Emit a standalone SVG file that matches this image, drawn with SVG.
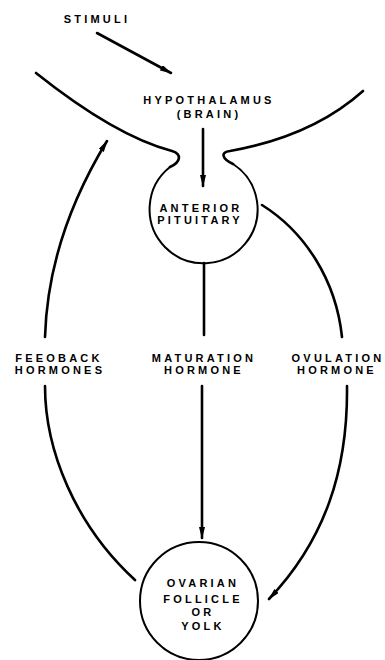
<svg xmlns="http://www.w3.org/2000/svg" width="385" height="660" viewBox="0 0 385 660">
<defs>
<marker id="ah" viewBox="0 0 12 6" refX="11" refY="3" markerWidth="12" markerHeight="6" markerUnits="userSpaceOnUse" orient="auto">
<path d="M0,0 L12,3 L0,6 Z" fill="#000"/>
</marker>
<style>
text{font-family:"Liberation Sans",Arial,sans-serif;font-size:11px;font-weight:bold;letter-spacing:3.2px;text-anchor:middle;fill:#000}
.ln{fill:none;stroke:#000;stroke-width:2.6;stroke-linecap:round}
.cl{fill:none;stroke:#000;stroke-width:2}
</style>
</defs>
<rect width="385" height="660" fill="#fff"/>
<g id="stimuli">
<text x="97" y="23">STIMULI</text>
</g>
<g id="hypothalamus">
<path class="ln" d="M36,73 C85,112 130,140 172,151 C182,154 181,162 170,167"/>
<path class="ln" d="M233,164 C222,159 220,152 230,151 C275,143 325,125 363,91"/>
<text x="209" y="104">HYPOTHALAMUS</text>
<text x="209" y="118">(BRAIN)</text>
</g>
<g id="pituitary">
<path class="cl" d="M170,167 A54 54 0 1 0 233,164"/>
<text x="201" y="212">ANTERIOR</text>
<text x="200" y="224">PITUITARY</text>
</g>
<g id="ovary">
<circle class="cl" cx="199" cy="601" r="59"/>
<text x="203" y="587">OVARIAN</text>
<text x="203" y="603">FOLLICLE</text>
<text x="203" y="616">OR</text>
<text x="203" y="630">YOLK</text>
</g>
<g id="labels">
<text x="59" y="362">FEEOBACK</text>
<text x="60" y="374">HORMONES</text>
<text x="204" y="362">MATURATION</text>
<text x="204" y="374">HORMONE</text>
<text x="338" y="362">OVULATION</text>
<text x="337" y="374">HORMONE</text>
</g>
<g id="connectors">
<path class="ln" d="M97,33 L171,73" marker-end="url(#ah)"/>
<path class="ln" d="M203,129 L203,186" marker-end="url(#ah)"/>
<path class="ln" d="M204,263 L204,335"/>
<path class="ln" d="M202,386 L202,538" marker-end="url(#ah)"/>
<path class="ln" d="M135,580 C75,525 45,450 45,386"/>
<path class="ln" d="M45,337 C47,270 68,205 107,141" marker-end="url(#ah)"/>
<path class="ln" d="M262,205 C305,232 336,280 342,337"/>
<path class="ln" d="M347,386 C348,470 325,540 269,599" marker-end="url(#ah)"/>
</g>
</svg>
